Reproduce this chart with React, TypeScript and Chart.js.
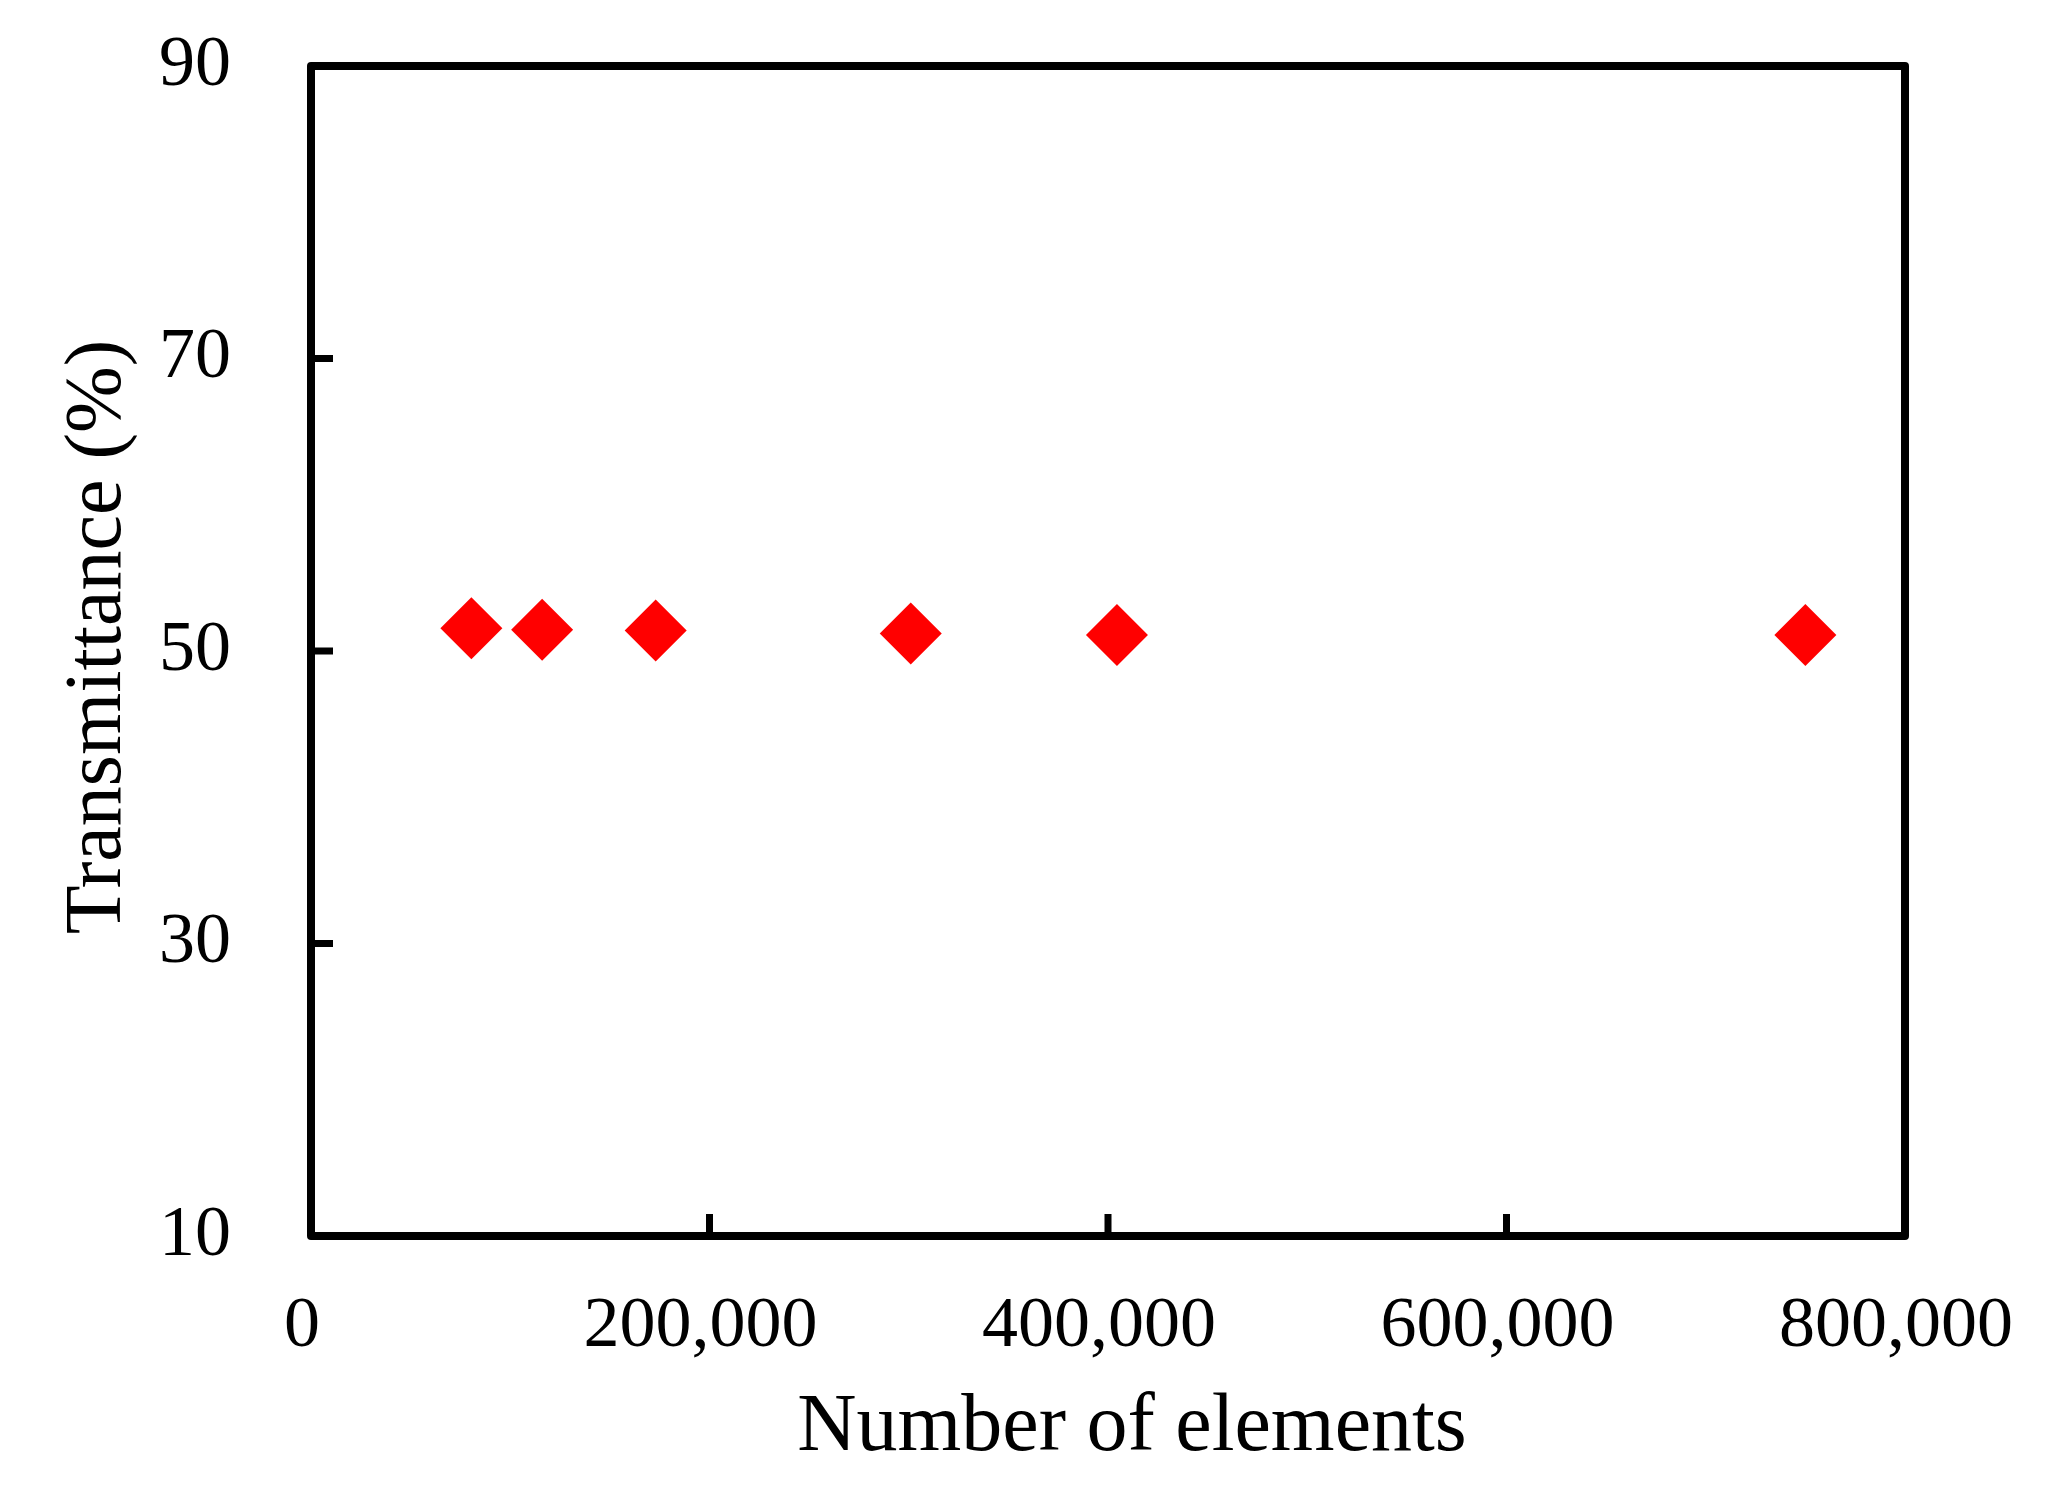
import React, { useEffect, useRef } from "react";
import { Chart, registerables } from "chart.js";

Chart.register(...registerables);

const elementCounts = [80500, 116000, 173000, 301000, 404500, 750000];
const transmittance = [51.55, 51.45, 51.4, 51.2, 51.1, 51.1];
const xTicks = [0, 200000, 400000, 600000, 800000];
const yTicks = [10, 30, 50, 70, 90];
const xTitle = "Number of elements";
const yTitle = "Transmittance (%)";

const W = 2055;
const H = 1494;
const FONT = "'Liberation Serif', 'Times New Roman', serif";

const framePlugin = {
  id: "frame",
  afterDraw(chart: any) {
    const { ctx, chartArea } = chart;
    const xs = chart.scales.x;
    const ys = chart.scales.y;
    ctx.save();
    ctx.strokeStyle = "#000";
    ctx.lineWidth = 8;
    ctx.lineJoin = "round";
    ctx.strokeRect(chartArea.left, chartArea.top, chartArea.right - chartArea.left, chartArea.bottom - chartArea.top);
    ctx.lineWidth = 7;
    ctx.lineCap = "butt";
    ctx.beginPath();
    xTicks.slice(1, -1).forEach((v) => {
      const px = xs.getPixelForValue(v);
      ctx.moveTo(px, chartArea.bottom);
      ctx.lineTo(px, chartArea.bottom - 22);
    });
    yTicks.slice(1, -1).forEach((v) => {
      const py = ys.getPixelForValue(v);
      ctx.moveTo(chartArea.left, py);
      ctx.lineTo(chartArea.left + 22, py);
    });
    ctx.stroke();

    // axis titles
    ctx.fillStyle = "#000";
    ctx.textAlign = "center";
    ctx.textBaseline = "alphabetic";
    ctx.font = `82px ${FONT}`;
    const cx = (chartArea.left + chartArea.right) / 2 + 24;
    ctx.fillText(xTitle, cx, 1450);
    ctx.font = `80px ${FONT}`;
    ctx.translate(120, (chartArea.top + chartArea.bottom) / 2 - 14);
    ctx.rotate(-Math.PI / 2);
    ctx.fillText(yTitle, 0, 0);
    ctx.restore();
  },
};

export default function App() {
  const ref = useRef<HTMLCanvasElement | null>(null);
  useEffect(() => {
    if (!ref.current) return;
    const chart = new Chart(ref.current, {
      type: "scatter",
      data: {
        datasets: [
          {
            data: elementCounts.map((x, i) => ({ x, y: transmittance[i] })),
            pointStyle: "rectRot",
            pointRadius: 31,
            pointHoverRadius: 31,
            backgroundColor: "#FF0000",
            borderColor: "#FF0000",
            borderWidth: 0,
          },
        ],
      },
      options: {
        animation: false,
        responsive: false,
        maintainAspectRatio: false,
        devicePixelRatio: 1,
        layout: { padding: { top: 66, right: 150, left: 0, bottom: 0 } },
        plugins: { legend: { display: false }, tooltip: { enabled: false } },
        scales: {
          x: {
            type: "linear",
            min: 0,
            max: 800000,
            afterBuildTicks: (s: any) => {
              s.ticks = xTicks.map((v) => ({ value: v }));
            },
            afterFit: (s: any) => {
              s.height = H - 1236;
            },
            grid: {
              display: true,
              drawOnChartArea: false,
              drawTicks: true,
              tickLength: 48,
              color: "rgba(0,0,0,0)",
            },
            border: { display: false },
            ticks: {
              color: "#000",
              font: { family: FONT, size: 72 },
              padding: 0,
              maxRotation: 0,
              autoSkip: false,
              callback: (v: any) => Number(v).toLocaleString("en-US") + " ",
            },
            title: { display: false },
          },
          y: {
            type: "linear",
            min: 10,
            max: 90,
            afterBuildTicks: (s: any) => {
              s.ticks = yTicks.map((v) => ({ value: v }));
            },
            afterFit: (s: any) => {
              s.width = 311;
            },
            grid: {
              display: true,
              drawOnChartArea: false,
              drawTicks: true,
              tickLength: 80,
              color: "rgba(0,0,0,0)",
            },
            border: { display: false },
            ticks: {
              color: "#000",
              font: { family: FONT, size: 72 },
              padding: 0,
              autoSkip: false,
            },
            title: { display: false },
          },
        },
      },
      plugins: [framePlugin],
    } as any);
    return () => chart.destroy();
  }, []);
  return (
    <div style={{ position: "absolute", left: 0, top: 0, width: W, height: H, background: "#fff" }}>
      <canvas ref={ref} width={W} height={H} style={{ width: W, height: H, display: "block" }} />
    </div>
  );
}
